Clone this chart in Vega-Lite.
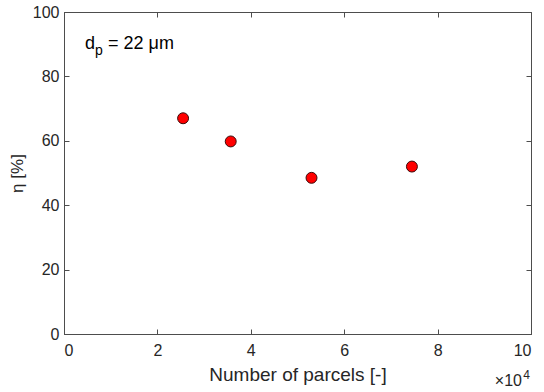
{
  "$schema": "https://vega.github.io/schema/vega-lite/v6.json",
  "width": 467,
  "height": 322,
  "autosize": {"type": "none"},
  "padding": {"left": 64, "top": 12, "right": 13, "bottom": 58},
  "background": "white",
  "config": {
    "view": {"stroke": "#4d4d4d", "strokeWidth": 1},
    "axis": {
      "grid": false,
      "domainColor": "#4d4d4d",
      "tickColor": "#4d4d4d",
      "tickSize": -5,
      "labelColor": "#262626",
      "titleColor": "#262626",
      "labelFont": "Liberation Sans",
      "titleFont": "Liberation Sans",
      "labelFontSize": 16,
      "titleFontSize": 17,
      "titleFontWeight": "normal"
    }
  },
  "data": {"values": [
    {"parcels": 2.55, "eta": 67.0},
    {"parcels": 3.57, "eta": 59.8},
    {"parcels": 5.30, "eta": 48.5},
    {"parcels": 7.45, "eta": 52.0}
  ]},
  "layer": [
    {
      "mark": {"type": "point", "filled": true, "fill": "#ff0000", "stroke": "#3a0a0a", "strokeWidth": 1, "opacity": 1, "size": 120, "shape": "circle"},
      "encoding": {
        "x": {"field": "parcels", "type": "quantitative", "scale": {"domain": [0, 10], "nice": false, "zero": false},
              "axis": {"orient": "bottom", "values": [0, 2, 4, 6, 8, 10], "title": "Number of parcels [-]", "titleFontSize": 19, "labelPadding": 13, "titlePadding": 7}},
        "y": {"field": "eta", "type": "quantitative", "scale": {"domain": [0, 100], "nice": false},
              "axis": {"orient": "left", "values": [0, 20, 40, 60, 80, 100], "title": "η [%]", "titleFontSize": 17, "labelPadding": 10, "titlePadding": 6}}
      }
    },
    {
      "mark": {"type": "point", "opacity": 0},
      "encoding": {
        "x": {"field": "parcels", "type": "quantitative", "axis": {"orient": "top", "values": [0, 2, 4, 6, 8, 10], "labels": false, "title": null, "domain": false}},
        "y": {"field": "eta", "type": "quantitative", "axis": {"orient": "right", "values": [0, 20, 40, 60, 80, 100], "labels": false, "title": null, "domain": false}}
      }
    },
    {
      "data": {"values": [{"label": "d"}]},
      "mark": {"type": "text", "align": "left", "baseline": "alphabetic", "font": "Liberation Sans", "fontSize": 18, "fontWeight": "normal", "color": "#000"},
      "encoding": {
        "x": {"datum": 0.45, "type": "quantitative", "axis": null},
        "y": {"datum": 88.5, "type": "quantitative", "axis": null},
        "text": {"field": "label"}
      }
    },
    {
      "data": {"values": [{"label": "p"}]},
      "mark": {"type": "text", "align": "left", "baseline": "alphabetic", "font": "Liberation Sans", "fontSize": 14, "fontWeight": "normal", "color": "#000", "dx": 10, "dy": 6},
      "encoding": {
        "x": {"datum": 0.45, "type": "quantitative", "axis": null},
        "y": {"datum": 88.5, "type": "quantitative", "axis": null},
        "text": {"field": "label"}
      }
    },
    {
      "data": {"values": [{"label": "= 22 μm"}]},
      "mark": {"type": "text", "align": "left", "baseline": "alphabetic", "font": "Liberation Sans", "fontSize": 18, "fontWeight": "normal", "color": "#000", "dx": 23},
      "encoding": {
        "x": {"datum": 0.45, "type": "quantitative", "axis": null},
        "y": {"datum": 88.5, "type": "quantitative", "axis": null},
        "text": {"field": "label"}
      }
    },
    {
      "data": {"values": [{"label": "×10"}]},
      "mark": {"type": "text", "align": "right", "baseline": "alphabetic", "font": "Liberation Sans", "fontSize": 16, "fontWeight": "normal", "color": "#262626", "dx": -9, "dy": 52},
      "encoding": {
        "x": {"datum": 10, "type": "quantitative", "axis": null},
        "y": {"datum": 0, "type": "quantitative", "axis": null},
        "text": {"field": "label"}
      }
    },
    {
      "data": {"values": [{"label": "4"}]},
      "mark": {"type": "text", "align": "right", "baseline": "alphabetic", "font": "Liberation Sans", "fontSize": 12, "fontWeight": "normal", "color": "#262626", "dx": -1, "dy": 45},
      "encoding": {
        "x": {"datum": 10, "type": "quantitative", "axis": null},
        "y": {"datum": 0, "type": "quantitative", "axis": null},
        "text": {"field": "label"}
      }
    }
  ]
}
